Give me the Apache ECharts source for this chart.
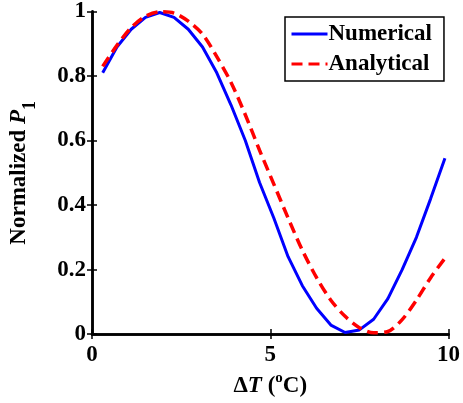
<!DOCTYPE html>
<html>
<head>
<meta charset="utf-8">
<script src="https://cdn.jsdelivr.net/npm/echarts@6/dist/echarts.min.js"></script>
<style>
html, body { margin: 0; padding: 0; background: #fff; }
#chart { width: 463px; height: 403px; }
</style>
</head>
<body>
<div id="chart"></div>
<script>
// temperature difference (deg C)
const temps = [0.3, 0.7, 1.1, 1.5, 1.9, 2.3, 2.7, 3.1, 3.5, 3.9, 4.3, 4.7, 5.1,
               5.5, 5.9, 6.3, 6.7, 7.1, 7.5, 7.9, 8.3, 8.7, 9.1, 9.5, 9.9];
const numerical = [0.81, 0.89, 0.945, 0.982, 0.997, 0.982, 0.945, 0.89, 0.81, 0.71,
                   0.60, 0.47, 0.36, 0.24, 0.15, 0.08, 0.028, 0.005, 0.013, 0.046,
                   0.11, 0.20, 0.30, 0.42, 0.545];
const analytical = [0.83, 0.895, 0.95, 0.985, 0.999, 0.995, 0.97, 0.93, 0.86, 0.78,
                    0.68, 0.57, 0.465, 0.36, 0.26, 0.175, 0.105, 0.055, 0.02, 0.004,
                    0.008, 0.045, 0.105, 0.175, 0.235];
const legendNames = ['Numerical', 'Analytical'];

const font = 'Liberation Serif';
const pairs = (ys) => temps.map((t, i) => [t, ys[i]]);

const axisLine = { show: true, lineStyle: { color: '#000', width: 2.5 } };
const tick = { show: true, inside: true, length: 5, lineStyle: { color: '#000', width: 1.5 } };
const label = { color: '#000', fontFamily: font, fontWeight: 'bold', fontSize: 23 };

let chart = echarts.init(document.getElementById('chart'));
chart.setOption({
    animation: false,
    grid: { left: 86, right: 11, top: 11, bottom: 68 },
    legend: {
        data: legendNames,
        orient: 'vertical',
        left: 285,
        top: 17,
        itemWidth: 36,
        itemHeight: 14,
        itemGap: 4,
        padding: [4, 12, 4, 5],
        borderColor: '#000',
        borderWidth: 1.5,
        backgroundColor: '#fff',
        itemStyle: { color: 'rgba(0,0,0,0)', borderWidth: 0, opacity: 0 },
        lineStyle: { width: 3 },
        textStyle: { color: '#000', fontFamily: font, fontWeight: 'bold', fontSize: 23, lineHeight: 26, padding: [0, 0, 0, -4] }
    },
    xAxis: [{
        type: 'value', min: 0, max: 10, interval: 5,
        axisLine: axisLine, axisTick: tick, splitLine: { show: false },
        axisLabel: Object.assign({ margin: 9 }, label),
        name: '{b|\u0394}{i|T}{b| (}{sup|o}{b|C)}',
        nameLocation: 'middle',
        nameGap: 36,
        nameTextStyle: {
            rich: {
                b: { fontFamily: font, fontWeight: 'bold', fontSize: 23, color: '#000', lineHeight: 27, verticalAlign: 'bottom' },
                i: { fontFamily: font, fontWeight: 'bold', fontStyle: 'italic', fontSize: 23, color: '#000', lineHeight: 27, verticalAlign: 'bottom' },
                sup: { fontFamily: font, fontWeight: 'bold', fontSize: 15, color: '#000', lineHeight: 27, verticalAlign: 'top' }
            }
        }
    }, {
        type: 'value', min: 0, max: 10, interval: 5, position: 'top',
        axisLine: axisLine, axisTick: tick, axisLabel: { show: false }, splitLine: { show: false }
    }],
    yAxis: [{
        type: 'value', min: 0, max: 1, interval: 0.2,
        axisLine: axisLine, axisTick: tick, splitLine: { show: false },
        axisLabel: Object.assign({ margin: 6 }, label),
        name: '{b|Normalized }{i|P}{sub|1}',
        nameLocation: 'middle',
        nameGap: 53,
        nameTextStyle: {
            rich: {
                b: { fontFamily: font, fontWeight: 'bold', fontSize: 23, color: '#000', lineHeight: 31, verticalAlign: 'top' },
                i: { fontFamily: font, fontWeight: 'bold', fontStyle: 'italic', fontSize: 23, color: '#000', lineHeight: 31, verticalAlign: 'top' },
                sub: { fontFamily: font, fontWeight: 'bold', fontSize: 18, color: '#000', lineHeight: 31, verticalAlign: 'bottom' }
            }
        }
    }, {
        type: 'value', min: 0, max: 1, interval: 0.2, position: 'right',
        axisLine: axisLine, axisTick: tick, axisLabel: { show: false }, splitLine: { show: false }
    }],
    series: [{
        name: legendNames[0],
        type: 'line',
        data: pairs(numerical),
        showSymbol: false,
        symbol: 'none',
        lineStyle: { color: '#0000ff', width: 3 },
        itemStyle: { color: '#0000ff' },
        z: 3
    }, {
        name: legendNames[1],
        type: 'line',
        data: pairs(analytical),
        showSymbol: false,
        symbol: 'none',
        smooth: 0.3,
        lineStyle: { color: '#ff0000', width: 3.5, type: [11, 6] },
        itemStyle: { color: '#ff0000' },
        z: 4
    }]
});
</script>
</body>
</html>
